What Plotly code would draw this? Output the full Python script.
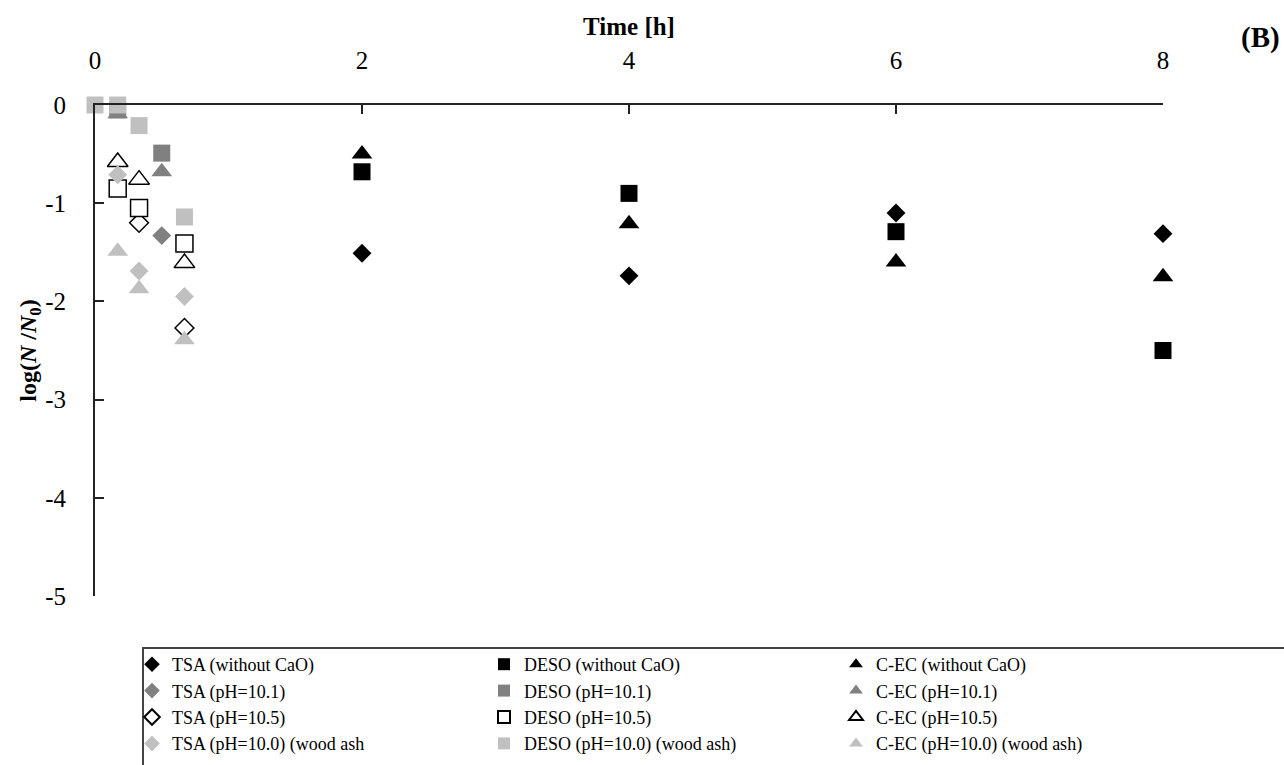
import plotly.graph_objects as go

# Sampling times [h]
t_long = [2, 4, 6, 8]

# log(N/N0) without CaO
tsa_plain = [-1.51, -1.74, -1.10, -1.31]
deso_plain = [-0.68, -0.90, -1.29, -2.50]
cec_plain = [-0.50, -1.21, -1.60, -1.75]

# pH 10.1
t_101_tsa = [0.5]
tsa_101 = [-1.33]
t_101 = [0.17, 0.5]
deso_101 = [-0.05, -0.49]
cec_101 = [-0.09, -0.68]

# pH 10.5
t_105_tsa = [0.33, 0.67]
tsa_105 = [-1.20, -2.27]
t_105 = [0.17, 0.33, 0.67]
deso_105 = [-0.85, -1.05, -1.41]
cec_105 = [-0.58, -0.76, -1.61]

# pH 10.0 (wood ash)
t_wa = [0.17, 0.33, 0.67]
tsa_wa = [-0.71, -1.69, -1.95]
t_wa_deso = [0, 0.17, 0.33, 0.67]
deso_wa = [0, 0, -0.21, -1.14]
cec_wa = [-1.49, -1.87, -2.39]

# Axis ticks
x_ticks = [0, 2, 4, 6, 8]
y_ticks = [0, -1, -2, -3, -4, -5]
y_tick_text = ["0", "-1", "-2", "-3", "-4", "-5"]

BLACK = "#000000"
DARK = "#808080"
LIGHT = "#c0c0c0"
WHITE = "#ffffff"
FONT = "Liberation Serif"

SIZES = {"diamond": 14.5, "square": 17, "triangle-up": 18}

series = [
    ("TSA (without CaO)", t_long, tsa_plain, "diamond", BLACK, BLACK),
    ("DESO (without CaO)", t_long, deso_plain, "square", BLACK, BLACK),
    ("C-EC (without CaO)", t_long, cec_plain, "triangle-up", BLACK, BLACK),
    ("TSA (pH=10.1)", t_101_tsa, tsa_101, "diamond", DARK, DARK),
    ("DESO (pH=10.1)", t_101, deso_101, "square", DARK, DARK),
    ("C-EC (pH=10.1)", t_101, cec_101, "triangle-up", DARK, DARK),
    ("TSA (pH=10.5)", t_105_tsa, tsa_105, "diamond", WHITE, BLACK),
    ("DESO (pH=10.5)", t_105, deso_105, "square", WHITE, BLACK),
    ("C-EC (pH=10.5)", t_105, cec_105, "triangle-up", WHITE, BLACK),
    ("TSA (pH=10.0) (wood ash", t_wa, tsa_wa, "diamond", LIGHT, LIGHT),
    ("DESO (pH=10.0) (wood ash)", t_wa_deso, deso_wa, "square", LIGHT, LIGHT),
    ("C-EC (pH=10.0) (wood ash)", t_wa, cec_wa, "triangle-up", LIGHT, LIGHT),
]

fig = go.Figure()
for name, xs, ys, sym, fill, edge in series:
    fig.add_trace(go.Scatter(
        x=xs, y=ys, name=name, mode="markers", cliponaxis=False,
        marker=dict(symbol=sym, size=SIZES[sym], color=fill,
                    line=dict(color=edge, width=1.5 if fill == WHITE else 0)),
    ))

axis_common = dict(
    showline=True, linecolor="#222222", linewidth=2,
    ticks="inside", ticklen=9, tickwidth=1.5, tickcolor="#222222",
    showgrid=False, zeroline=False,
    tickfont=dict(family=FONT, size=25, color="#000000"),
)

fig.update_layout(
    width=1284, height=765,
    margin=dict(l=95, r=121, t=105, b=169),
    paper_bgcolor="white", plot_bgcolor="white",
    font=dict(family=FONT, color="#000000"),
    xaxis=dict(
        side="top", range=[0, 8], tickvals=x_ticks,
        ticklabelstandoff=24,
        title=dict(text="Time [h]", font=dict(family=FONT, size=25, weight="bold"), standoff=4),
        **axis_common,
    ),
    yaxis=dict(
        range=[-5, 0], tickvals=y_ticks, ticktext=y_tick_text,
        ticklabelstandoff=22,
        title=dict(text="log(<i>N</i> /<i>N</i><sub>0</sub>)",
                   font=dict(family=FONT, size=24, weight="bold"), standoff=2),
        **axis_common,
    ),
    showlegend=True,
    legend=dict(
        orientation="h", xref="container", yref="container",
        x=132 / 1284, y=1 - 646 / 765, xanchor="left", yanchor="top",
        entrywidth=307, entrywidthmode="pixels",
        itemsizing="constant", itemwidth=30,
        font=dict(family=FONT, size=18, color="#000000"),
        bgcolor="rgba(0,0,0,0)", borderwidth=0,
    ),
)

# Frame around the legend, running off the lower right of the page
fig.add_shape(
    type="rect", xref="paper", yref="paper",
    x0=(143 - 95) / 1068, x1=(1300 - 95) / 1068,
    y0=(596 - 780) / 491, y1=(596 - 648) / 491,
    line=dict(color="#444444", width=2), fillcolor="rgba(0,0,0,0)", layer="below",
)

fig.add_annotation(
    text="<b>(B)</b>", xref="paper", yref="paper",
    x=(1261 - 95) / 1068, y=(596 - 38) / 491,
    xanchor="center", yanchor="middle",
    showarrow=False, font=dict(family=FONT, size=29, color="#000000"),
)

fig.write_html("out.html")
